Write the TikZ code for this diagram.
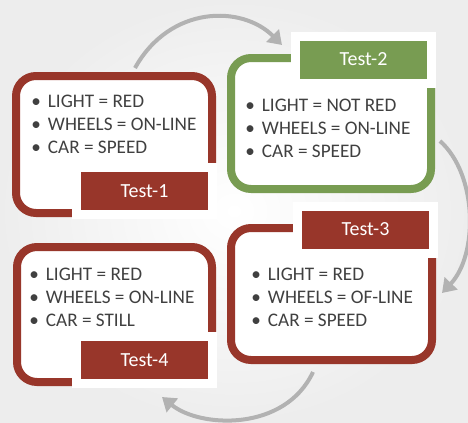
\documentclass[tikz,border=0pt]{standalone}
\usepackage{fontspec}
\setmainfont{Carlito}
\usetikzlibrary{arrows.meta}
\definecolor{testred}{RGB}{152,54,42}
\definecolor{testgreen}{RGB}{120,156,82}
\definecolor{flowgray}{RGB}{178,178,178}
\definecolor{itemgray}{RGB}{64,64,64}
\newcommand{\itm}[1]{\makebox[12.5pt][l]{\textbullet}#1}

\begin{document}
\begin{tikzpicture}[x=0.75pt,y=-0.75pt,
	testbox/.style={draw=#1,fill=white,line width=6pt,rounded corners=15pt,outer sep=0pt,inner sep=0pt},
	testlabel/.style={fill=#1,preaction={draw=white,line width=13.5pt},text=white,font=\fontsize{15}{18}\selectfont,minimum width=95.25pt,minimum height=28.5pt,inner sep=0pt,outer sep=0pt},
	items/.style={anchor=north west,align=left,inner sep=0pt,text=itemgray,font=\fontsize{14.4}{17.25}\selectfont},
	flow/.style={draw=flowgray,line width=3pt,-{Triangle[width=13pt,length=10pt]}}]
		\useasboundingbox (0,0) rectangle (468,422);
		\shade[inner color=white,outer color=black!7] (0,0) rectangle (468,422);

		\node[testbox=testred,minimum width=147pt,minimum height=102.75pt] (box1) at (114,144.5) {};
		\node[testbox=testgreen,minimum width=150pt,minimum height=98.25pt] (box2) at (331,123.5) {};
		\node[testbox=testred,minimum width=150.75pt,minimum height=99pt] (box3) at (331.5,294) {};
		\node[testbox=testred,minimum width=146.25pt,minimum height=101.25pt] (box4) at (114.5,314.5) {};

		\node[testlabel=testred,anchor=south east] (lbl1) at ([shift={(-4,-3)}]box1.south east) {Test-1};
		\node[testlabel=testgreen,anchor=east] (lbl2) at ([shift={(-4,1.5)}]box2.north east) {Test-2};
		\node[testlabel=testred,anchor=east] (lbl3) at ([shift={(-3,1.5)}]box3.north east) {Test-3};
		\node[testlabel=testred,anchor=south east] (lbl4) at ([shift={(-4,-3)}]box4.south east) {Test-4};

		\node[items] (txt1) at (31,95) {\itm{LIGHT = RED}\\\itm{WHEELS = ON-LINE}\\\itm{CAR = SPEED}};
		\node[items] (txt2) at (245,99) {\itm{LIGHT = NOT RED}\\\itm{WHEELS = ON-LINE}\\\itm{CAR = SPEED}};
		\node[items] (txt3) at (251,268) {\itm{LIGHT = RED}\\\itm{WHEELS = OF-LINE}\\\itm{CAR = SPEED}};
		\node[items] (txt4) at (29,268) {\itm{LIGHT = RED}\\\itm{WHEELS = ON-LINE}\\\itm{CAR = STILL}};

		\draw[flow] ([shift={(21,-8)}]box1.north) .. controls +(35,-63) and +(-40,-40) .. ([shift={(-18,-14.5)}]lbl2.west);
		\draw[flow] ([shift={(9,17.5)}]box2.east) .. controls +(38,34) and +(36,-38) .. ([shift={(10,-1)}]box3.east);
		\draw[flow] ([shift={(-18.5,12)}]box3.south) .. controls +(-28,60) and +(38,31) .. ([shift={(17.5,18)}]lbl4.south);
	\end{tikzpicture}
\end{document}
